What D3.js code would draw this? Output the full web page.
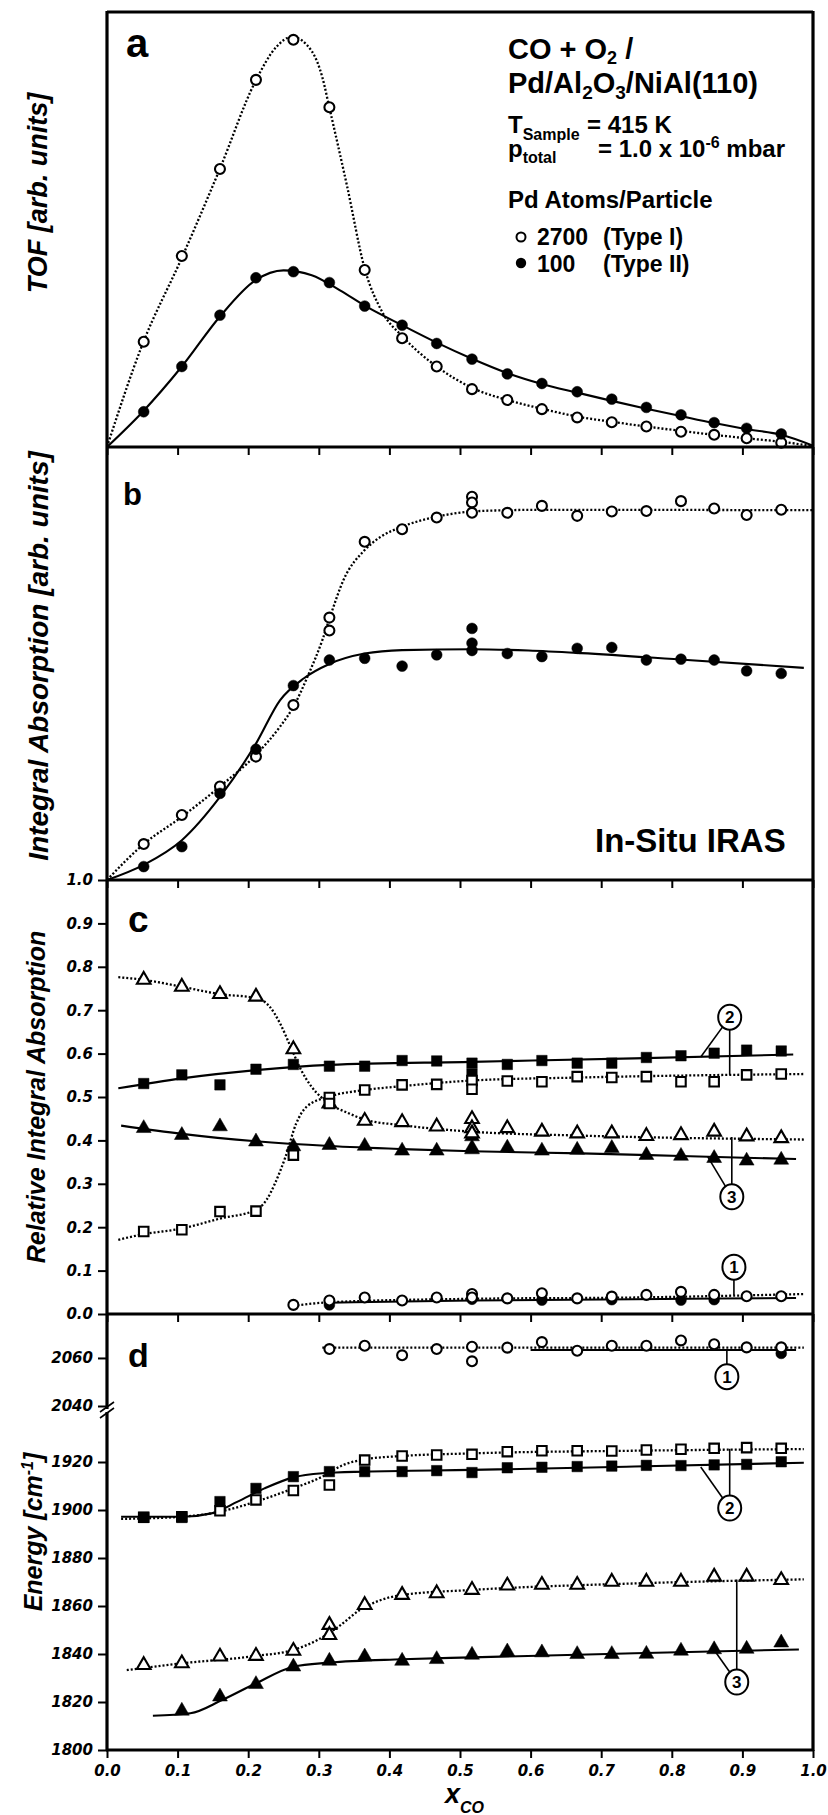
<!DOCTYPE html>
<html>
<head>
<meta charset="utf-8">
<script src="https://cdn.jsdelivr.net/npm/d3@7"></script>
<style>
body{margin:0;background:#fff;}
svg{display:block;}
</style>
</head>
<body>
<div id="chart"></div>
<script>
// ---- panel a : TOF [arb. units] ----
const tofTypeI = [[.052,24.2],[.106,43.9],[.16,63.9],[.211,84.4],[.264,93.6],[.315,78.1],[.365,40.7],[.418,25.0],[.467,18.5],[.517,13.3],[.567,10.8],[.616,8.7],[.666,6.8],[.715,5.7],[.764,4.7],[.813,3.5],[.86,2.8],[.906,2.0],[.955,1.0]];
const tofTypeII = [[.052,8.1],[.106,18.5],[.16,30.3],[.211,38.9],[.264,40.3],[.315,37.8],[.365,32.4],[.418,28.0],[.467,23.8],[.517,20.2],[.567,16.8],[.616,14.6],[.666,12.7],[.715,11.0],[.764,9.1],[.813,7.4],[.86,5.6],[.906,4.3],[.955,3.0]];
const tofFitI = [[0,0],[.05,23.5],[.106,43.5],[.16,64],[.21,84],[.24,92],[.262,94.3],[.29,91],[.305,85],[.315,78],[.34,60],[.365,41],[.39,31],[.418,25.5],[.467,18.5],[.517,13.6],[.567,10.8],[.616,8.8],[.666,7],[.715,5.8],[.764,4.7],[.813,3.7],[.86,2.8],[.906,2],[.955,1.2],[1,0.2]];
const tofFitII = [[0,0],[.05,8],[.106,18.5],[.16,30],[.21,38.3],[.25,40.6],[.29,39.5],[.33,36],[.365,32.5],[.418,28],[.467,24],[.517,20.3],[.567,17],[.616,14.5],[.666,12.5],[.715,10.6],[.764,8.8],[.813,7.1],[.86,5.5],[.906,4.1],[.955,2.8],[1,0.3]];

// ---- panel b : Integral Absorption [arb. units] ----
const absTypeI = [[.052,8.3],[.106,15.0],[.16,21.6],[.211,28.5],[.264,40.4],[.315,57.6],[.315,60.6],[.365,78.1],[.418,81.0],[.467,83.7],[.517,88.5],[.517,87.2],[.517,84.8],[.567,84.8],[.616,86.4],[.666,84.1],[.715,85.1],[.764,85.2],[.813,87.5],[.86,85.8],[.906,84.3],[.955,85.5]];
const absTypeII = [[.052,3.1],[.106,7.7],[.16,20.0],[.211,30.2],[.264,44.9],[.315,50.8],[.365,51.2],[.418,49.4],[.467,52.0],[.517,58.1],[.517,54.7],[.517,53.0],[.567,52.3],[.616,51.6],[.666,53.5],[.715,53.7],[.764,50.8],[.813,51.0],[.86,50.8],[.906,48.3],[.955,47.7]];
const absFitI = [[0,0],[.052,8.3],[.106,14.6],[.16,21.6],[.211,28.9],[.245,35.4],[.264,40.0],[.286,47.7],[.305,55.4],[.316,60.8],[.335,69.3],[.365,76.2],[.388,79.3],[.418,81.6],[.467,83.9],[.517,85.1],[.567,85.4],[.616,85.5],[1,85.4]];
const absFitII = [[0,0],[.052,3.5],[.106,9.2],[.16,19.2],[.211,31.5],[.245,41.5],[.279,46.6],[.315,49.9],[.365,52.3],[.418,53.1],[.517,53.3],[.597,53.0],[.672,52.4],[.822,50.8],[.987,49.0]];

// ---- panel c : Relative Integral Absorption ----
const relTriOpen = [[.052,.770],[.106,.754],[.16,.737],[.211,.731],[.264,.610],[.315,.485],[.365,.445],[.418,.442],[.467,.432],[.517,.449],[.517,.428],[.517,.416],[.567,.428],[.616,.420],[.666,.416],[.715,.416],[.764,.410],[.813,.412],[.86,.420],[.906,.409],[.955,.405]];
const relTriFilled = [[.052,.428],[.106,.412],[.16,.432],[.211,.397],[.264,.386],[.315,.389],[.365,.387],[.418,.376],[.467,.376],[.517,.409],[.517,.383],[.517,.379],[.567,.383],[.616,.376],[.666,.378],[.715,.382],[.764,.366],[.813,.364],[.86,.359],[.906,.353],[.955,.355]];
const relSqOpen = [[.052,.190],[.106,.194],[.16,.236],[.211,.237],[.264,.366],[.315,.499],[.315,.485],[.365,.516],[.418,.528],[.467,.529],[.517,.538],[.517,.518],[.567,.537],[.616,.535],[.666,.547],[.715,.545],[.764,.547],[.813,.535],[.86,.535],[.906,.551],[.955,.553]];
const relSqFilled = [[.052,.531],[.106,.551],[.16,.528],[.211,.564],[.264,.575],[.315,.571],[.365,.571],[.418,.584],[.467,.583],[.517,.578],[.517,.553],[.567,.575],[.616,.584],[.666,.578],[.715,.578],[.764,.591],[.813,.595],[.86,.601],[.906,.608],[.955,.606]];
const relCircOpen = [[.264,.021],[.315,.031],[.365,.038],[.418,.031],[.467,.038],[.517,.046],[.517,.038],[.567,.036],[.616,.048],[.666,.036],[.715,.040],[.764,.044],[.813,.051],[.86,.044],[.906,.041],[.955,.041]];
const relCircFilled = [[.315,.021],[.517,.034],[.616,.032],[.715,.033],[.813,.032],[.86,.033]];
const relFitTriOpen = [[.016,.776],[.052,.770],[.106,.754],[.16,.737],[.211,.728],[.23,.709],[.245,.670],[.26,.616],[.275,.562],[.29,.523],[.315,.485],[.343,.462],[.365,.448],[.418,.435],[.517,.420],[.672,.411],[.987,.402]];
const relFitTriFilled = [[.02,.434],[.106,.415],[.211,.398],[.315,.387],[.418,.380],[.517,.375],[.672,.370],[.813,.364],[.976,.357]];
const relFitSqOpen = [[.016,.171],[.052,.184],[.106,.197],[.16,.220],[.211,.240],[.226,.263],[.238,.301],[.253,.363],[.268,.439],[.283,.478],[.315,.501],[.365,.516],[.418,.525],[.517,.538],[.672,.545],[.987,.553]];
const relFitSqFilled = [[.016,.520],[.106,.543],[.211,.562],[.315,.574],[.517,.581],[.747,.589],[.972,.598]];
const relFitCircOpen = [[.264,.019],[.315,.027],[.517,.035],[.747,.038],[.987,.046]];
const relFitCircFilled = [[.315,.026],[.517,.031],[.747,.034],[.976,.037]];

// ---- panel d : Energy [cm-1] ----
const enCircOpen = [[.315,2063.7],[.365,2065.1],[.418,2061.1],[.467,2063.7],[.517,2064.7],[.517,2058.6],[.567,2064.3],[.616,2066.6],[.666,2063.0],[.715,2065.1],[.764,2065.1],[.813,2067.3],[.86,2065.7],[.906,2064.4],[.955,2064.4]];
const enCircFilled = [[.955,2061.9]];
const enSqOpen = [[.052,1897.0],[.106,1897.2],[.16,1899.7],[.211,1904.2],[.264,1908.1],[.315,1910.4],[.365,1920.8],[.418,1922.5],[.467,1922.9],[.517,1923.2],[.567,1924.3],[.616,1924.7],[.666,1924.7],[.715,1924.6],[.764,1925.0],[.813,1925.3],[.86,1925.7],[.906,1926.0],[.955,1925.7]];
const enSqFilled = [[.052,1896.9],[.106,1896.9],[.16,1903.5],[.211,1909.0],[.264,1913.9],[.315,1916.0],[.365,1916.0],[.418,1916.0],[.467,1916.4],[.517,1915.6],[.567,1917.6],[.616,1917.8],[.666,1918.1],[.715,1918.3],[.764,1918.6],[.813,1918.5],[.86,1918.8],[.906,1919.0],[.955,1920.1]];
const enTriOpen = [[.052,1835.4],[.106,1836.1],[.16,1838.9],[.211,1839.2],[.264,1841.3],[.315,1852.1],[.315,1847.9],[.365,1860.4],[.418,1864.6],[.467,1865.3],[.517,1866.7],[.567,1868.5],[.616,1868.8],[.666,1868.8],[.715,1870.1],[.764,1870.1],[.813,1870.1],[.86,1872.2],[.906,1872.2],[.955,1870.8]];
const enTriFilled = [[.106,1816.3],[.16,1822.2],[.211,1827.4],[.264,1834.7],[.315,1837.1],[.365,1838.9],[.418,1837.1],[.467,1837.8],[.517,1839.6],[.567,1841.0],[.616,1840.6],[.666,1839.9],[.715,1839.9],[.764,1840.0],[.813,1841.3],[.86,1841.9],[.906,1842.1],[.955,1844.7]];
const enFitCircOpen = [[.305,2064.3],[.6,2064.3],[.987,2064.3]];
const enFitCircFilled = [[.6,2063.3],[.976,2063.3]];
const enFitSqOpen = [[.02,1896.3],[.106,1897.2],[.16,1899.3],[.211,1903.5],[.264,1909.0],[.305,1913.9],[.335,1918.8],[.365,1921.1],[.418,1922.5],[.517,1923.6],[.747,1924.7],[.987,1925.4]];
const enFitSqFilled = [[.02,1897.2],[.106,1897.2],[.148,1898.6],[.185,1903.5],[.223,1909.0],[.264,1913.6],[.305,1915.3],[.365,1916.0],[.517,1916.7],[.747,1918.1],[.987,1919.7]];
const enFitTriOpen = [[.028,1833.3],[.106,1836.1],[.211,1839.2],[.264,1841.7],[.298,1845.8],[.328,1851.4],[.358,1858.3],[.388,1862.5],[.418,1864.6],[.517,1866.7],[.747,1869.4],[.987,1871.1]];
const enFitTriFilled = [[.065,1814.3],[.118,1815.3],[.163,1820.8],[.211,1827.8],[.264,1834.7],[.315,1836.4],[.418,1837.8],[.517,1838.6],[.747,1840.3],[.98,1841.9]];

// tick values
const xTicks = [0,.1,.2,.3,.4,.5,.6,.7,.8,.9,1];
const xMinor = [.05,.15,.25,.35,.45,.55,.65,.75,.85,.95];
const relTicks = [0,.1,.2,.3,.4,.5,.6,.7,.8,.9,1];
const relMinor = [.05,.15,.25,.35,.45,.55,.65,.75,.85,.95];
const enTicksLow = [1800,1820,1840,1860,1880,1900,1920];
const enMinorLow = [1810,1830,1850,1870,1890,1910,1930];
const enTicksHigh = [2040,2060];
const enMinorHigh = [2050,2070];

// callouts: circled numbers pointing at curves
const calloutsC = [
	{label:'2', at:[.882,.684], to:[[.841,.592],[.882,.551]]},
	{label:'3', at:[.885,.270], to:[[.851,.362],[.885,.408]]},
	{label:'1', at:[.888,.108], to:[[.888,.044]]}
];
const calloutsDHigh = [{label:'1', at:[.878,2052.2], to:[[.878,2063.3]]}];
const calloutsDLow = [
	{label:'2', at:[.882,1900.8], to:[[.841,1917.9],[.882,1925.5]]},
	{label:'3', at:[.892,1828.3], to:[[.892,1871.0],[.86,1841.7]]}
];

const W = 828, H = 1815;
const svg = d3.select('#chart').append('svg').attr('width', W).attr('height', H);

const x = d3.scaleLinear().domain([0,1]).range([107,813]);
const yA = d3.scaleLinear().domain([0,100]).range([447,12]);
const yB = d3.scaleLinear().domain([0,100]).range([880,447]);
const yC = d3.scaleLinear().domain([0,1]).range([1314,880]);
const yDlow = d3.scaleLinear().domain([1800,1940]).range([1750,1414]);
const yDhigh = d3.scaleLinear().domain([2040,2078.3]).range([1406,1314]);

const tickFont = '"DejaVu Sans", sans-serif';
const textFont = '"Liberation Sans", Arial, Helvetica, sans-serif';

function drawCurve(yS, data, dotted){
	let line = d3.line()
		.x(d => x(d[0]))
		.y(d => yS(d[1]))
		.curve(d3.curveMonotoneX);
	svg.append('path')
		.datum(data)
		.attr('d', line)
		.attr('fill', 'none')
		.attr('stroke', '#000')
		.attr('stroke-width', dotted ? 2.3 : 2.1)
		.attr('stroke-dasharray', dotted ? '2,2' : null);
}

function drawMarks(yS, data, kind){
	let shapes = {circle: d3.symbolCircle, square: d3.symbolSquare, triangle: d3.symbolTriangle};
	let sizes = {circleopen:78, circlefilled:92, squareopen:90, squarefilled:110, triangleopen:80, trianglefilled:96};
	let parts = kind.split('-');
	let open = parts[1] === 'open';
	let sym = d3.symbol().type(shapes[parts[0]]).size(sizes[parts[0] + parts[1]]);
	svg.append('g').selectAll('path')
		.data(data)
		.join('path')
		.attr('transform', d => 'translate(' + x(d[0]) + ',' + yS(d[1]) + ')')
		.attr('d', sym)
		.attr('fill', open ? '#fff' : '#000')
		.attr('stroke', '#000')
		.attr('stroke-width', open ? 2.1 : 0.5);
}

function drawCallouts(yS, list){
	list.forEach(function(c){
		c.to.forEach(function(t){
			svg.append('line')
				.attr('x1', x(c.at[0])).attr('y1', yS(c.at[1]))
				.attr('x2', x(t[0])).attr('y2', yS(t[1]))
				.attr('stroke', '#000').attr('stroke-width', 1.6);
		});
		svg.append('ellipse')
			.attr('cx', x(c.at[0])).attr('cy', yS(c.at[1]))
			.attr('rx', 11.5).attr('ry', 12.5)
			.attr('fill', '#fff').attr('stroke', '#000').attr('stroke-width', 2);
		svg.append('text')
			.attr('x', x(c.at[0])).attr('y', yS(c.at[1]) + 6)
			.attr('text-anchor', 'middle')
			.style('font-family', textFont).style('font-weight', 'bold').style('font-size', '17px')
			.text(c.label);
	});
}

function xAxisAt(yPos, labels){
	let g = svg.append('g').attr('transform', 'translate(0,' + yPos + ')');
	g.call(d3.axisBottom(x).tickValues(xMinor).tickSize(5).tickFormat(''));
	g.call(d3.axisBottom(x).tickValues(xTicks).tickSize(8).tickPadding(7)
		.tickFormat(labels ? d3.format('.1f') : ''));
	g.selectAll('.domain').remove();
	g.selectAll('line').attr('stroke-width', 2);
	g.selectAll('text')
		.style('font-family', tickFont).style('font-weight', 'bold')
		.style('font-style', 'italic').style('font-size', '15px').attr('fill', '#000');
}

function yAxisLeft(yS, major, minor, fmt){
	let g = svg.append('g').attr('transform', 'translate(107,0)');
	g.call(d3.axisLeft(yS).tickValues(minor).tickSize(5).tickFormat(''));
	g.call(d3.axisLeft(yS).tickValues(major).tickSize(9).tickPadding(5).tickFormat(fmt));
	g.selectAll('.domain').remove();
	g.selectAll('line').attr('stroke-width', 2);
	g.selectAll('text')
		.style('font-family', tickFont).style('font-weight', 'bold')
		.style('font-style', 'italic').style('font-size', '15px').attr('fill', '#000');
}

// ---------- curves and markers ----------
drawCurve(yA, tofFitI, true);
drawCurve(yA, tofFitII, false);
drawMarks(yA, tofTypeI, 'circle-open');
drawMarks(yA, tofTypeII, 'circle-filled');

drawCurve(yB, absFitI, true);
drawCurve(yB, absFitII, false);
drawMarks(yB, absTypeI, 'circle-open');
drawMarks(yB, absTypeII, 'circle-filled');

drawCallouts(yC, calloutsC);
drawCurve(yC, relFitTriOpen, true);
drawCurve(yC, relFitTriFilled, false);
drawCurve(yC, relFitSqOpen, true);
drawCurve(yC, relFitSqFilled, false);
drawCurve(yC, relFitCircFilled, false);
drawCurve(yC, relFitCircOpen, true);
drawMarks(yC, relCircFilled, 'circle-filled');
drawMarks(yC, relCircOpen, 'circle-open');
drawMarks(yC, relTriFilled, 'triangle-filled');
drawMarks(yC, relTriOpen, 'triangle-open');
drawMarks(yC, relSqFilled, 'square-filled');
drawMarks(yC, relSqOpen, 'square-open');

drawCallouts(yDhigh, calloutsDHigh);
drawCallouts(yDlow, calloutsDLow);
drawCurve(yDhigh, enFitCircOpen, true);
drawCurve(yDhigh, enFitCircFilled, false);
drawMarks(yDhigh, enCircFilled, 'circle-filled');
drawMarks(yDhigh, enCircOpen, 'circle-open');
drawCurve(yDlow, enFitSqOpen, true);
drawCurve(yDlow, enFitSqFilled, false);
drawCurve(yDlow, enFitTriOpen, true);
drawCurve(yDlow, enFitTriFilled, false);
drawMarks(yDlow, enSqOpen, 'square-open');
drawMarks(yDlow, enSqFilled, 'square-filled');
drawMarks(yDlow, enTriOpen, 'triangle-open');
drawMarks(yDlow, enTriFilled, 'triangle-filled');

// ---------- frame, axes ----------
let frame = svg.append('g').attr('stroke', '#000').attr('stroke-width', 3.2).attr('fill', 'none');
frame.append('line').attr('x1', 107).attr('x2', 813).attr('y1', yA.range()[1]).attr('y2', yA.range()[1]);
[yA.range()[0], yB.range()[0], yC.range()[0], yDlow.range()[0]].forEach(function(yy){
	frame.append('line').attr('x1', 106).attr('x2', 814).attr('y1', yy).attr('y2', yy);
});
frame.append('line').attr('x1', 813).attr('x2', 813).attr('y1', 11).attr('y2', 1751);
frame.append('line').attr('x1', 107).attr('x2', 107).attr('y1', 11).attr('y2', yDhigh.range()[0] + 3);
frame.append('line').attr('x1', 107).attr('x2', 107).attr('y1', yDlow.range()[1] - 2).attr('y2', 1751);
// axis break marks
let bTop = yDhigh.range()[0], bBot = yDlow.range()[1];
frame.append('line').attr('x1', 100).attr('x2', 114).attr('y1', bTop + 6).attr('y2', bTop - 4).attr('stroke-width', 1.6);
frame.append('line').attr('x1', 100).attr('x2', 114).attr('y1', bBot + 4).attr('y2', bBot - 6).attr('stroke-width', 1.6);

xAxisAt(yA.range()[0], false);
xAxisAt(yB.range()[0], false);
xAxisAt(yC.range()[0], false);
xAxisAt(yDlow.range()[0], true);
yAxisLeft(yC, relTicks, relMinor, d3.format('.1f'));
yAxisLeft(yDlow, enTicksLow, enMinorLow, d3.format('d'));
yAxisLeft(yDhigh, enTicksHigh, enMinorHigh, d3.format('d'));

// ---------- texts ----------
function label(txt, xx, yy, size, opts){
	opts = opts || {};
	return svg.append('text')
		.attr('x', xx).attr('y', yy)
		.attr('text-anchor', opts.anchor || 'start')
		.attr('transform', opts.rotate ? 'rotate(-90,' + xx + ',' + yy + ')' : null)
		.style('font-family', textFont).style('font-weight', 'bold')
		.style('font-style', opts.italic ? 'italic' : 'normal')
		.style('font-size', size + 'px')
		.text(txt);
}

label('a', 126, 57, 40);
label('b', 123, 505, 31);
label('c', 128, 932, 37);
label('d', 128, 1367, 34);

label('TOF [arb. units]', 47, 193, 27, {rotate:true, italic:true, anchor:'middle'});
label('Integral Absorption [arb. units]', 48, 656, 28, {rotate:true, italic:true, anchor:'middle'});
label('Relative Integral Absorption', 45, 1097, 25, {rotate:true, italic:true, anchor:'middle'});
let en = label('Energy [cm', 42, 1532, 25, {rotate:true, italic:true, anchor:'middle'});
en.append('tspan').attr('dy', -9).style('font-size', '16px').text('-1');
en.append('tspan').attr('dy', 9).text(']');

let xl = label('x', 445, 1803, 27, {italic:true});
xl.append('tspan').attr('dy', 10).style('font-size', '16px').text('CO');

label('In-Situ IRAS', 595, 852, 33);

// legend / conditions block
let l1 = label('CO + O', 508, 59, 29);
l1.append('tspan').attr('dy', 5).style('font-size', '18px').text('2');
l1.append('tspan').attr('dy', -5).text(' /');
let l2 = label('Pd/Al', 508, 93, 29);
l2.append('tspan').attr('dy', 6).style('font-size', '19px').text('2');
l2.append('tspan').attr('dy', -6).text('O');
l2.append('tspan').attr('dy', 6).style('font-size', '19px').text('3');
l2.append('tspan').attr('dy', -6).text('/NiAl(110)');

let l3 = label('T', 508, 133, 24);
l3.append('tspan').attr('dy', 7).style('font-size', '16px').text('Sample');
label('= 415 K', 587, 133, 24);
let l4 = label('p', 508, 157, 24);
l4.append('tspan').attr('dy', 6).style('font-size', '16px').text('total');
let l5 = label('= 1.0 x 10', 598, 157, 24);
l5.append('tspan').attr('dy', -9).style('font-size', '16px').text('-6');
l5.append('tspan').attr('dy', 9).text(' mbar');

label('Pd Atoms/Particle', 508, 208, 24);
svg.append('circle').attr('cx', 521).attr('cy', 237).attr('r', 4.5)
	.attr('fill', '#fff').attr('stroke', '#000').attr('stroke-width', 2);
svg.append('circle').attr('cx', 521).attr('cy', 263).attr('r', 5.2).attr('fill', '#000');
label('2700', 537, 245, 23);
label('(Type I)', 603, 245, 23);
label('100', 537, 272, 23);
label('(Type II)', 603, 272, 23);
</script>
</body>
</html>
